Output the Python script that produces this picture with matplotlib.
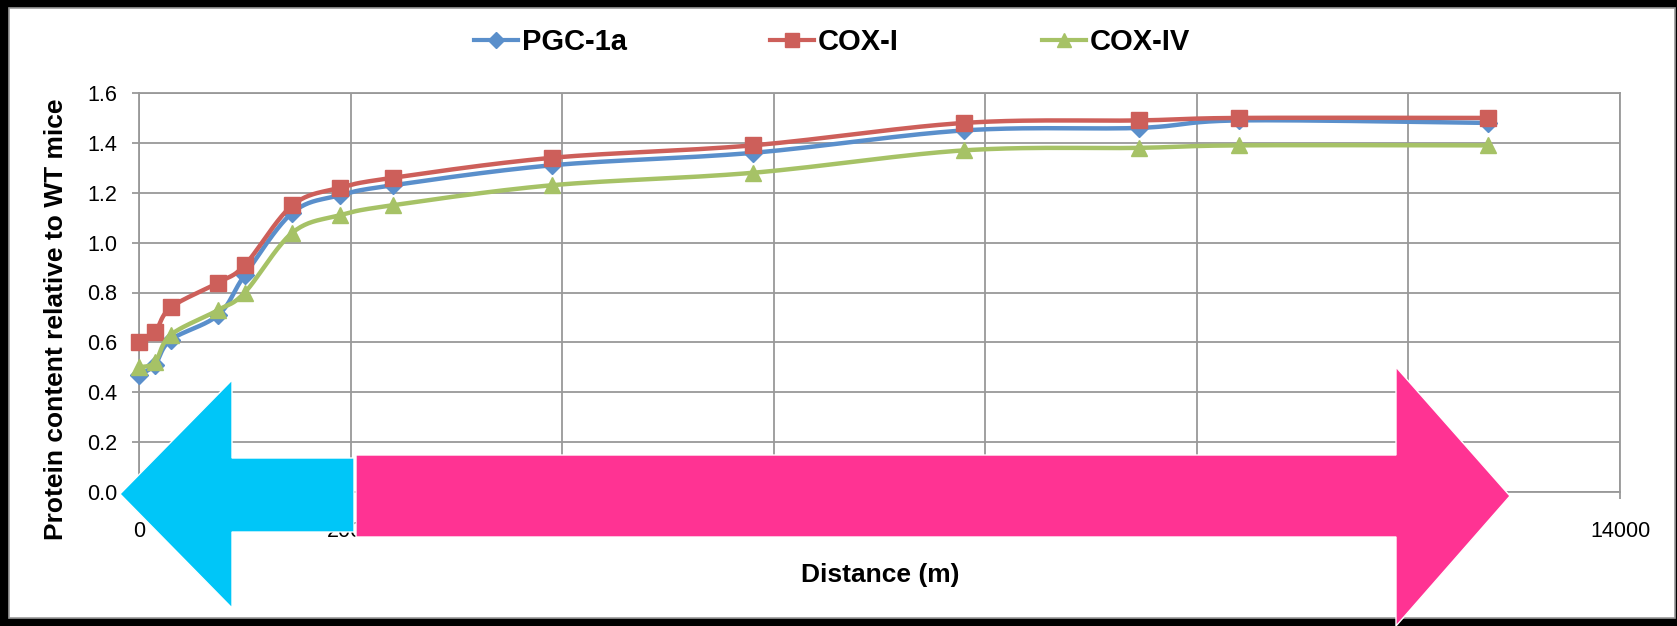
import numpy as np
import matplotlib.pyplot as plt
from matplotlib.patches import Polygon, Rectangle
from matplotlib.lines import Line2D

# Data
distance = [0, 150, 300, 750, 1000, 1450, 1900, 2400, 3900, 5800, 7800, 9450, 10400, 12750]
pgc1a = [0.47, 0.51, 0.61, 0.71, 0.87, 1.12, 1.19, 1.23, 1.31, 1.36, 1.45, 1.46, 1.49, 1.48]
cox1 = [0.60, 0.64, 0.74, 0.84, 0.91, 1.15, 1.22, 1.26, 1.34, 1.39, 1.48, 1.49, 1.50, 1.50]
cox4 = [0.50, 0.52, 0.63, 0.73, 0.80, 1.04, 1.11, 1.15, 1.23, 1.28, 1.37, 1.38, 1.39, 1.39]

series_names = ["PGC-1a", "COX-I", "COX-IV"]
series_colors = ["#5A8FCB", "#CD5F5A", "#A6C266"]
series_markers = ["D", "s", "^"]

W, H = 1677, 626
plt.rcParams["font.family"] = ["Liberation Sans", "DejaVu Sans"]


def px(x, y):
    # pixel (from top-left) -> figure fraction
    return x / W, 1 - y / H


def smooth(x, y, n=24):
    # Excel-style smoothed line (Catmull-Rom bezier) in screen-like space
    sx, sy = 1481 / 14000, 399 / 1.6
    p = np.column_stack([np.asarray(x) * sx, np.asarray(y) * sy])
    p = np.vstack([p[0], p, p[-1]])
    t = np.linspace(0, 1, n)[:, None]
    parts = []
    for i in range(1, len(p) - 2):
        p0, p1, p2, p3 = p[i - 1], p[i], p[i + 1], p[i + 2]
        c1 = p1 + (p2 - p0) / 6
        c2 = p2 - (p3 - p1) / 6
        b = (1 - t) ** 3 * p1 + 3 * (1 - t) ** 2 * t * c1 + 3 * (1 - t) * t ** 2 * c2 + t ** 3 * p2
        parts.append(b if i == 1 else b[1:])
    b = np.vstack(parts)
    return b[:, 0] / sx, b[:, 1] / sy


fig = plt.figure(figsize=(W / 100, H / 100), dpi=100)
fig.patch.set_facecolor("black")
fig.patches.append(Rectangle(px(9, 618), (1675 - 9) / W, (618 - 8) / H, transform=fig.transFigure,
                             facecolor="white", edgecolor="#9a9a9a", linewidth=1.2, zorder=-5))

l, t = px(139, 93)
r, b = px(1620, 492)
ax = fig.add_axes([l, b, r - l, t - b])
ax.set_facecolor("white")

for ys, name, c, m in zip([pgc1a, cox1, cox4], series_names, series_colors, series_markers):
    sx_, sy_ = smooth(distance, ys)
    ax.plot(sx_, sy_, color=c, lw=3.2, solid_capstyle="round", zorder=3)
    ax.plot(distance, ys, ls="none", marker=m, color=c, ms=11 if m != "D" else 9, zorder=3, clip_on=False)

ax.set_xlim(0, 14000)
ax.set_ylim(0, 1.6)
ax.set_xticks(np.arange(0, 14001, 2000))
ax.set_yticks(np.arange(0, 1.61, 0.2))
ax.set_yticklabels([f"{v:.1f}" for v in np.arange(0, 1.61, 0.2)])
ax.grid(True, color="#999999", lw=1.3)
ax.set_axisbelow(True)
for s in ax.spines.values():
    s.set_color("#999999")
    s.set_linewidth(1.3)
ax.tick_params(direction="out", length=5, width=1.3, color="#999999", labelsize=15.5)
ax.tick_params(axis="x", pad=16)
ax.tick_params(axis="y", pad=10.5)

fig.text(*px(56, 319), "Protein content relative to WT mice", rotation=90, ha="center", va="center",
         fontsize=19, fontweight="bold")
fig.text(*px(880, 575), "Distance (m)", ha="center", va="center", fontsize=19, fontweight="bold")

handles = [Line2D([], [], color=c, lw=3, marker=m, ms=10 if m != "D" else 8)
           for c, m in zip(series_colors, series_markers)]
fig.legend(handles, series_names, loc="center left", bbox_to_anchor=px(474, 42), ncol=3, frameon=False,
           prop={"size": 21, "weight": "bold"}, handlelength=1.5, handletextpad=0.15, columnspacing=4.9,
           borderpad=0, borderaxespad=0)

# Overlaid arrows
cyan = [(120, 494), (232, 380), (232, 458), (354, 458), (354, 532), (232, 532), (232, 608)]
pink = [(356, 455), (1396, 455), (1396, 367), (1510, 496), (1396, 626), (1396, 537), (356, 537)]
fig.patches.append(Polygon([px(*p) for p in cyan], closed=True, transform=fig.transFigure,
                           facecolor="#00C6F8", edgecolor="white", lw=1, zorder=10))
fig.patches.append(Polygon([px(*p) for p in pink], closed=True, transform=fig.transFigure,
                           facecolor="#FF3393", edgecolor="white", lw=1, zorder=10))

fig.savefig("out.png", dpi=100, facecolor=fig.get_facecolor())
